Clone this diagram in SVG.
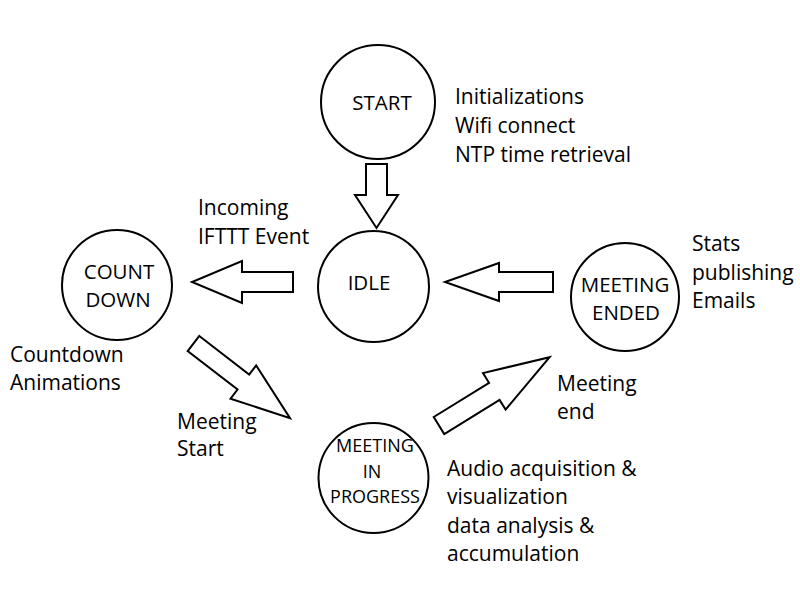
<svg xmlns="http://www.w3.org/2000/svg" width="800" height="600" viewBox="0 0 800 600">
<style>
.node{fill:#fff;stroke:#000;stroke-width:2}
.arr{fill:#fff;stroke:#000;stroke-width:2;stroke-linejoin:miter}
text{font-family:"Open Sans","Liberation Sans",sans-serif;font-size:21px;fill:#000}
.c{text-anchor:middle;font-size:20.5px}
.s{font-size:18px}
</style>
<rect width="800" height="600" fill="#fff"/>
<g id="connectors">
<polygon class="arr" points="366,164 387,164 387,195 398,195 376.5,228 355,195 366,195"/>
<polygon class="arr" points="293,272 293,292 242,292 242,303 192,282 242,261 242,272"/>
<polygon class="arr" points="553,272 553,292 499,292 499,301 445,282 499,263 499,272"/>
<polygon class="arr" transform="translate(193.5,343.5) rotate(37.7)" points="0,-9.5 63,-9.5 63,-21 122,0 63,21 63,9.5 0,9.5"/>
<polygon class="arr" transform="translate(439,425.5) rotate(-31.7)" points="0,-10 65,-10 65,-21.5 130,0 65,21.5 65,10 0,10"/>
</g>
<g id="start">
<circle class="node" cx="378" cy="102" r="57"/>
<text class="c" x="382" y="110">START</text>
</g>
<g id="start-notes">
<text x="455" y="104">Initializations</text>
<text x="455" y="133">Wifi connect</text>
<text x="455" y="162">NTP time retrieval</text>
</g>
<g id="idle">
<circle class="node" cx="373.5" cy="286.5" r="55.5"/>
<text class="c" x="369" y="290">IDLE</text>
</g>
<g id="idle-label">
<text x="198" y="215">Incoming</text>
<text x="198" y="244">IFTTT Event</text>
</g>
<g id="countdown">
<circle class="node" cx="117" cy="285" r="55"/>
<text class="c" x="119" y="279">COUNT</text>
<text class="c" x="118" y="307">DOWN</text>
</g>
<g id="countdown-notes">
<text x="10" y="362">Countdown</text>
<text x="10" y="390">Animations</text>
</g>
<g id="meeting-start-label">
<text x="177" y="429">Meeting</text>
<text x="177" y="456">Start</text>
</g>
<g id="meeting-ended">
<circle class="node" cx="625" cy="297" r="54"/>
<text class="c" x="625" y="292">MEETING</text>
<text class="c" x="626" y="320">ENDED</text>
</g>
<g id="ended-notes">
<text x="692" y="251">Stats</text>
<text x="692" y="280">publishing</text>
<text x="692" y="308">Emails</text>
</g>
<g id="meeting-end-label">
<text x="557" y="391">Meeting</text>
<text x="557" y="419">end</text>
</g>
<g id="meeting-in-progress">
<circle class="node" cx="373.5" cy="478" r="55"/>
<text class="c s" x="375" y="452">MEETING</text>
<text class="c s" x="372" y="478">IN</text>
<text class="c s" x="375" y="503">PROGRESS</text>
</g>
<g id="progress-notes">
<text x="447" y="476">Audio acquisition &amp;</text>
<text x="447" y="504">visualization</text>
<text x="447" y="533">data analysis &amp;</text>
<text x="447" y="561">accumulation</text>
</g>
</svg>
